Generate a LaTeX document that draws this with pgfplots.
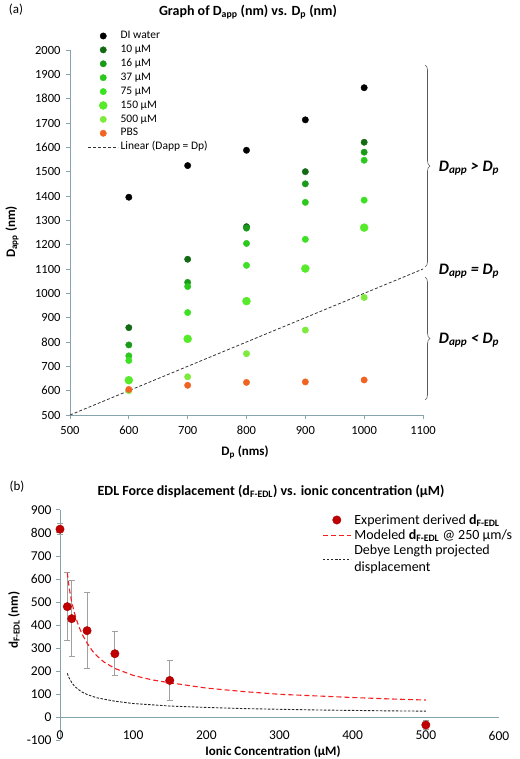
\documentclass[border=0pt]{standalone}
\usepackage{pgfplots}
\pgfplotsset{compat=1.18}
\usepackage{fontspec}
\setmainfont{Carlito}
\usetikzlibrary{decorations.pathreplacing}

\definecolor{axiscol}{RGB}{134,164,174}
\definecolor{gA}{RGB}{20,105,20}
\definecolor{gB}{RGB}{25,155,25}
\definecolor{gC}{RGB}{45,200,30}
\definecolor{gD}{RGB}{60,225,35}
\definecolor{gE}{RGB}{85,235,40}
\definecolor{gF}{RGB}{125,235,60}
\definecolor{pbs}{RGB}{240,100,35}
\definecolor{expred}{RGB}{192,0,0}
\definecolor{modred}{RGB}{245,30,30}
\definecolor{errcol}{RGB}{160,160,160}
\definecolor{bracecol}{RGB}{90,90,90}

\begin{document}
\begin{tikzpicture}
\path[use as bounding box] (0bp,0bp) rectangle (520bp,-759bp);

% ---------------- Panel (a) ----------------
\begin{axis}[
  at={(70bp,-415bp)}, anchor=south west,
  scale only axis, width=353bp, height=365bp,
  xmin=500, xmax=1100, ymin=500, ymax=2000,
  xtick={500,600,...,1100}, ytick={500,600,...,2000},
  axis x line*=bottom, axis y line*=left,
  axis line style={axiscol,-, line width=0.8bp},
  tick style={axiscol, line width=0.8bp},
  tick align=outside, major tick length=4bp,
  /pgf/number format/assume math mode=true,
  /pgf/number format/1000 sep={},
  tick label style={font=\fontsize{12.5bp}{14bp}\selectfont},
  xticklabel style={yshift=-3.5bp},
  yticklabel style={xshift=-2bp},
  clip=false,
  every axis plot post/.append style={legend image code/.code={\draw[mark repeat=2,mark phase=2,##1] plot coordinates {(0bp,0bp) (15bp,0bp) (30bp,0bp)};}},
  legend style={at={(rel axis cs:0.05,1.058)}, anchor=north west, draw=none, fill=none,
    font=\fontsize{11.5bp}{13bp}\selectfont, inner sep=0pt,
    nodes={text height=7.8bp, text depth=2.5bp, inner ysep=1.8bp, inner xsep=2bp}},
  legend cell align=left,
]
\addplot[only marks, mark=*, mark size=3.2bp, black] coordinates {(600,1395) (700,1525) (800,1588) (900,1713) (1000,1845)};
\addlegendentry{DI water}
\addplot[only marks, mark=*, mark size=3.2bp, gA] coordinates {(600,859) (700,1140) (800,1274) (900,1500) (1000,1621)};
\addlegendentry{10 µM}
\addplot[only marks, mark=*, mark size=3.2bp, gB] coordinates {(600,788) (700,1045) (800,1268) (900,1450) (1000,1580)};
\addlegendentry{16 µM}
\addplot[only marks, mark=*, mark size=3.2bp, gC] coordinates {(600,743) (700,1028) (800,1205) (900,1374) (1000,1547)};
\addlegendentry{37 µM}
\addplot[only marks, mark=*, mark size=3.2bp, gD] coordinates {(600,724) (700,921) (800,1115) (900,1222) (1000,1383)};
\addlegendentry{75 µM}
\addplot[only marks, mark=*, mark size=4bp, gE] coordinates {(600,643) (700,813) (800,968) (900,1102) (1000,1270)};
\addlegendentry{150 µM}
\addplot[only marks, mark=*, mark size=3.2bp, gF] coordinates {(600,600) (700,657) (800,752) (900,849) (1000,983)};
\addlegendentry{500 µM}
\addplot[only marks, mark=*, mark size=3.2bp, pbs] coordinates {(600,605) (700,622) (800,634) (900,636) (1000,644)};
\addlegendentry{PBS}
\addplot[black!80, line width=0.8bp, dash pattern=on 3bp off 2bp] coordinates {(500,500) (1100,1100)};
\addlegendentry{Linear (Dapp = Dp)}
\end{axis}

% braces and annotations (a)
\draw[bracecol, line width=0.6bp, decorate, decoration={brace, amplitude=5bp}] (425bp,-65bp) -- (425bp,-267bp);
\draw[bracecol, line width=0.6bp, decorate, decoration={brace, amplitude=5bp}] (425bp,-277bp) -- (425bp,-400bp);
\node[font=\fontsize{16bp}{18bp}\selectfont\bfseries\itshape] at (469bp,-168bp) {D\textsubscript{app} > D\textsubscript{p}};
\node[font=\fontsize{16bp}{18bp}\selectfont\bfseries\itshape] at (469bp,-271bp) {D\textsubscript{app} = D\textsubscript{p}};
\node[font=\fontsize{16bp}{18bp}\selectfont\bfseries\itshape] at (469bp,-340bp) {D\textsubscript{app} < D\textsubscript{p}};

\node[font=\fontsize{13bp}{15bp}\selectfont] at (16bp,-10bp) {(a)};
\node[font=\fontsize{14bp}{16bp}\selectfont\bfseries] at (248bp,-12bp) {Graph of D\textsubscript{app} (nm) vs. D\textsubscript{p} (nm)};
\node[font=\fontsize{13bp}{15bp}\selectfont\bfseries] at (245bp,-452bp) {D\textsubscript{p} (nms)};
\node[font=\fontsize{13bp}{15bp}\selectfont\bfseries, rotate=90] at (12bp,-232bp) {D\textsubscript{app} (nm)};

% ---------------- Panel (b) ----------------
\begin{axis}[
  at={(60bp,-740.4bp)}, anchor=south west,
  scale only axis, width=439bp, height=230.6bp,
  xmin=0, xmax=600, ymin=-100, ymax=900,
  xtick={0,100,...,600}, ytick={-100,0,...,900},
  axis x line*=bottom, axis y line*=left,
  x axis line style={draw=none},
  y axis line style={axiscol,-, line width=0.8bp},
  xtick style={draw=none},
  ytick style={axiscol, line width=0.8bp},
  tick align=outside, major tick length=4bp,
  /pgf/number format/assume math mode=true,
  /pgf/number format/1000 sep={},
  tick label style={font=\fontsize{13.5bp}{15bp}\selectfont},
  xticklabel style={yshift=17bp},
  yticklabel style={xshift=-1bp},
  clip=false,
  every axis plot post/.append style={legend image code/.code={\draw[mark repeat=2,mark phase=2,##1] plot coordinates {(0bp,0bp) (14bp,0bp) (28bp,0bp)};}},
  legend style={at={(rel axis cs:0.597,0.99)}, anchor=north west, draw=none, fill=none,
    font=\fontsize{14bp}{17bp}\selectfont, inner sep=0pt,
    nodes={inner ysep=2bp, inner xsep=3bp},
    cells={align=left}},
  legend cell align=left,
]
\draw[axiscol, line width=0.8bp] (axis cs:0,0) -- (axis cs:600,0);
\addplot[only marks, mark=*, mark size=4.2bp, mark options={fill=expred, draw=expred!85!black},
  error bars/.cd, y dir=both, y explicit,
  error bar style={errcol, line width=1bp},
  error mark options={errcol, line width=1bp, mark size=3bp, rotate=90}]
  table[x=x, y=y, y error=e] {
x y e
0 816 24
10 480 146
16 428 165
37 376 164
75 276 96
150 160 88
500 -33 20
};
\addlegendentry{Experiment derived \textbf{d\textsubscript{F-EDL}}}
\addplot[modred, line width=1.1bp, dash pattern=on 5bp off 3bp] coordinates {
(10,627) (12,575) (14,535) (16,500) (18,475) (20,450) (25,400) (30,362) (37,322) (45,285) (50,268) (60,240) (75,212) (100,182) (125,163) (150,150) (200,127) (250,112) (300,100) (350,93) (400,86) (450,80) (500,75)};
\addlegendentry{Modeled \textbf{d\textsubscript{F-EDL}} @ 250 µm/s}
\addplot[black!85, line width=0.9bp, dash pattern=on 2.5bp off 1.5bp] coordinates {
(10,191) (12,174) (16,151) (20,135) (25,121) (30,110) (37,99) (50,85) (75,70) (100,60) (150,49) (200,43) (250,38) (300,35) (350,32) (400,30) (450,28) (500,27)};
\addlegendentry{Debye Length projected\\displacement}
\end{axis}

\node[font=\fontsize{13bp}{15bp}\selectfont] at (17bp,-487bp) {(b)};
\node[font=\fontsize{14bp}{16bp}\selectfont\bfseries] at (271bp,-491bp) {EDL Force displacement (d\textsubscript{F-EDL}) vs. ionic concentration (µM)};
\node[font=\fontsize{13bp}{15bp}\selectfont\bfseries] at (273bp,-752bp) {Ionic Concentration (µM)};
\node[font=\fontsize{13bp}{15bp}\selectfont\bfseries, rotate=90] at (14bp,-620bp) {d\textsubscript{F-EDL} (nm)};
\end{tikzpicture}
\end{document}
